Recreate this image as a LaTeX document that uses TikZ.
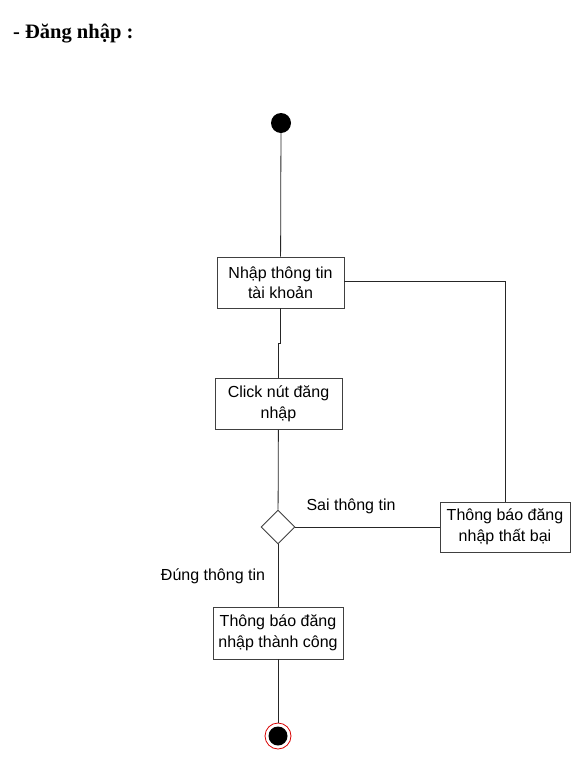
\documentclass[tikz,border=0pt]{standalone}
\usepackage{fontspec}
\setmainfont{Liberation Sans}
\newfontfamily\titlefont{Liberation Serif}
\usetikzlibrary{shapes.geometric, positioning}

\tikzset{
  action/.style={draw=black!75, line width=0.9pt, fill=white, minimum width=127pt, minimum height=51pt, align=center, inner sep=2pt, font=\fontsize{16}{20.5}\selectfont},
  decision/.style={draw=black!75, line width=0.9pt, fill=white, diamond, minimum width=34pt, minimum height=34pt, inner sep=0pt},
  flow/.style={draw=black!85, line width=0.8pt},
  guard/.style={font=\fontsize{16}{19}\selectfont, inner sep=0pt}
}

\begin{document}
\begin{tikzpicture}[x=1pt, y=-1pt]
  \useasboundingbox[fill=white] (0,0) rectangle (588,774);
  \node[anchor=west, font=\titlefont\bfseries\fontsize{20.5}{24}\selectfont, inner sep=0pt] (title) at (13,34) {- Đăng nhập :};

  \node[circle, fill=black, minimum size=20pt, inner sep=0pt] (start) at (281,123) {};
  \node[action] (nhap) at (280.5,282.5) {Nhập thông tin\\tài khoản};
  \node[action] (click) at (278.5,404) {Click nút đăng\\nhập};
  \node[decision] (check) at (278,527) {};
  \node[action, minimum width=130pt, minimum height=50pt] (fail) at (505,527) {Thông báo đăng\\nhập thất bại};
  \node[action, minimum width=130pt, minimum height=52pt] (ok) at (278,633) {Thông báo đăng\\nhập thành công};
  \node[circle, draw=red!85!black, line width=0.8pt, fill=white, minimum size=26pt, inner sep=0pt] (end) at (278,736) {};
  \node[circle, fill=black, minimum size=19pt, inner sep=0pt] (endin) at (end) {};

  \node[guard] (sai) at (351,506) {Sai thông tin};
  \node[guard] (dung) at (213,576) {Đúng thông tin};

  \coordinate (jog1) at (280.5,343);
  \coordinate (jog2) at (278.5,343);
  \coordinate (corner) at (505,281);

  \draw[flow] (start) -- (nhap);
  \draw[flow] (nhap.south) -- (jog1) -- (jog2) -- (click.north);
  \draw[flow] (nhap.east |- corner) -- (corner) -- (fail.north);
  \draw[flow] (click) -- (check);
  \draw[flow] (check) -- (fail);
  \draw[flow] (check) -- (ok);
  \draw[flow] (ok) -- (end);
\end{tikzpicture}
\end{document}
